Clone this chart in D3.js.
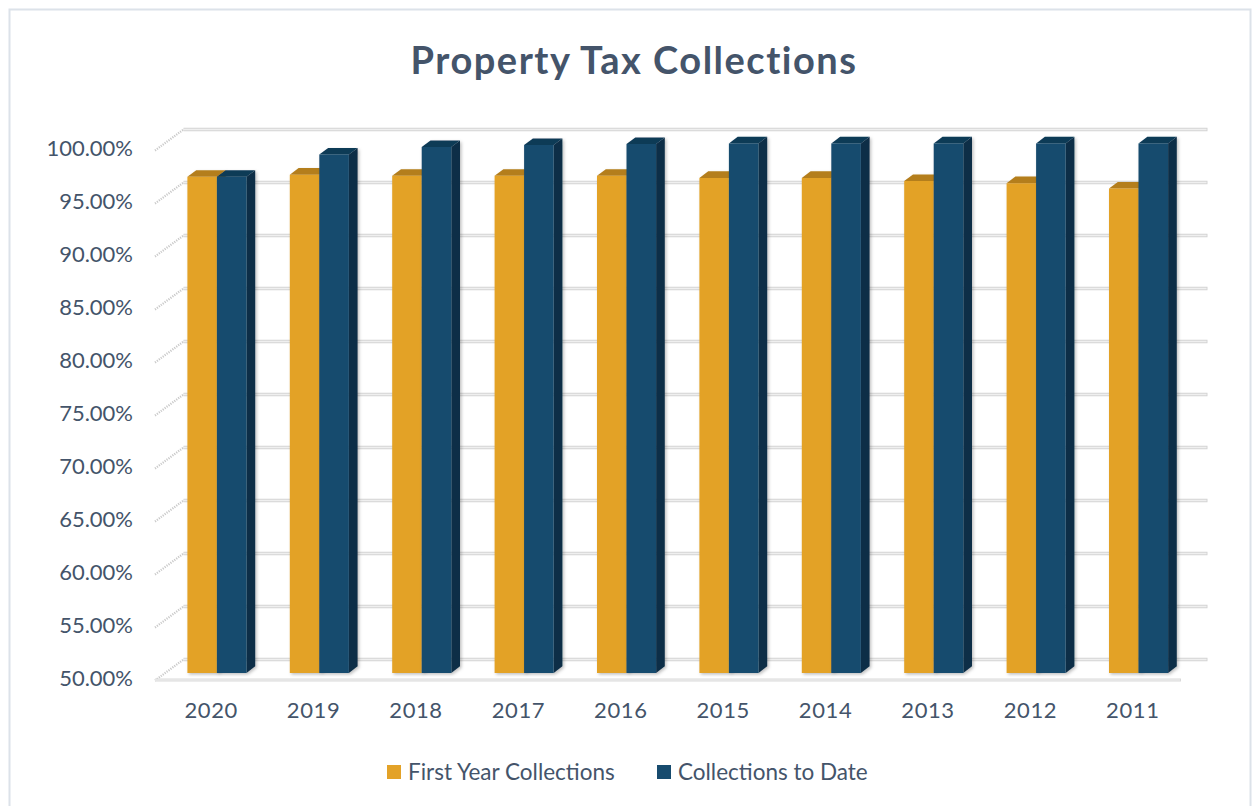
<!DOCTYPE html>
<html>
<head>
<meta charset="utf-8">
<script src="https://cdn.jsdelivr.net/npm/d3@7"></script>
<style>
  body { margin: 0; background: #fff; }
  text { font-family: Lato, "Open Sans", sans-serif; fill: #44546A; }
</style>
</head>
<body>
<div id="cont"></div>
<script>
// data
var years = ["2020", "2019", "2018", "2017", "2016", "2015", "2014", "2013", "2012", "2011"];
var firstYear = [96.8, 97.0, 96.9, 96.9, 96.9, 96.7, 96.7, 96.4, 96.2, 95.7];
var toDate = [96.8, 98.9, 99.6, 99.8, 99.9, 99.95, 99.95, 99.95, 99.95, 99.95];
var yTicks = [50, 55, 60, 65, 70, 75, 80, 85, 90, 95, 100];
var seriesNames = ["First Year Collections", "Collections to Date"];

var colors = {
  "First Year Collections": { front: "#E3A228", top: "#B47E1C", side: "#A8741A" },
  "Collections to Date": { front: "#174B6E", top: "#113A57", side: "#0F2F47" }
};

var W = 1253, H = 806;
// depth vector of the floor (front -> back wall)
var DX = 26.5, DY = -20;
var F1 = 0.33, F2 = 0.66;

var svg = d3.select("#cont").append("svg")
  .attr("width", W).attr("height", H);

svg.append("rect")
  .attr("x", 9.5).attr("y", 9.5)
  .attr("width", 1241).attr("height", 810)
  .attr("fill", "#fff")
  .attr("stroke", "#DCE2E9").attr("stroke-width", 2);

var defs = svg.append("defs");
defs.append("filter").attr("id", "shadow")
  .attr("x", "-20%").attr("y", "-20%").attr("width", "150%").attr("height", "150%")
  .append("feDropShadow")
  .attr("dx", 1.5).attr("dy", 1.5).attr("stdDeviation", 1.5)
  .attr("flood-color", "#000").attr("flood-opacity", 0.25);

var x = d3.scaleBand().domain(years).range([157, 1181]);
var inner = d3.scaleBand().domain(seriesNames).range([0, x.bandwidth()]).paddingOuter(0.735);
var y = d3.scaleLinear().domain([50, 100]).range([679.5, 149.5]);

function pt(px, v, f) {
  return [px + f * DX, y(v) + f * DY];
}
function poly(list) {
  return list.map(function(p) { return p[0].toFixed(1) + "," + p[1].toFixed(1); }).join(" ");
}

var x0 = x.range()[0], x1 = x.range()[1];

// side wall gridlines (left, dotted)
svg.selectAll("line.side")
  .data(yTicks)
  .enter().append("line")
  .attr("class", "side")
  .attr("x1", x0 - 2).attr("y1", function(d) { return y(d) + 1; })
  .attr("x2", x0 + DX).attr("y2", function(d) { return y(d) + DY; })
  .attr("stroke", "#C9C9C9").attr("stroke-width", 2.2)
  .attr("stroke-dasharray", "1.2,1.2");

// back wall gridlines
var grid = svg.selectAll("g.grid")
  .data(yTicks)
  .enter().append("g").attr("class", "grid");
grid.append("line")
  .attr("x1", x0 + DX).attr("x2", x1 + DX)
  .attr("y1", function(d) { return y(d) + DY; })
  .attr("y2", function(d) { return y(d) + DY; })
  .attr("stroke", "#D4D4D4").attr("stroke-width", 3.5);
grid.append("line")
  .attr("x1", x0 + DX).attr("x2", x1 + DX - 1)
  .attr("y1", function(d) { return y(d) + DY; })
  .attr("y2", function(d) { return y(d) + DY; })
  .attr("stroke", "#EFEFEF").attr("stroke-width", 1.3);

// floor front edge
svg.append("line")
  .attr("x1", x0 - 2).attr("x2", x1)
  .attr("y1", y(50) + 0.5).attr("y2", y(50) + 0.5)
  .attr("stroke", "#D9D9D9").attr("stroke-width", 3);
svg.append("line")
  .attr("x1", x0 - 2).attr("x2", x1 - 1)
  .attr("y1", y(50) + 0.5).attr("y2", y(50) + 0.5)
  .attr("stroke", "#F2F2F2").attr("stroke-width", 1);

// bars
var bars = [];
years.forEach(function(yr, i) {
  bars.push({ year: yr, series: seriesNames[0], value: firstYear[i] });
  bars.push({ year: yr, series: seriesNames[1], value: toDate[i] });
});

var g = svg.selectAll("g.bar")
  .data(bars)
  .enter().append("g").attr("class", "bar")
  .attr("filter", "url(#shadow)");

g.append("polygon")
  .attr("points", function(d) {
    var a = x(d.year) + inner(d.series), b = a + inner.bandwidth();
    return poly([pt(b, 50, F1), pt(b, d.value, F1), pt(b, d.value, F2), pt(b, 50, F2)]);
  })
  .attr("fill", function(d) { return colors[d.series].side; });

g.append("polygon")
  .attr("points", function(d) {
    var a = x(d.year) + inner(d.series), b = a + inner.bandwidth();
    return poly([pt(a, d.value, F1), pt(b, d.value, F1), pt(b, d.value, F2), pt(a, d.value, F2)]);
  })
  .attr("fill", function(d) { return colors[d.series].top; });

g.append("polygon")
  .attr("points", function(d) {
    var a = x(d.year) + inner(d.series), b = a + inner.bandwidth();
    return poly([pt(a, 50, F1), pt(b, 50, F1), pt(b, d.value, F1), pt(a, d.value, F1)]);
  })
  .attr("fill", function(d) { return colors[d.series].front; });

// y axis labels
svg.selectAll("text.ytick")
  .data(yTicks)
  .enter().append("text")
  .attr("class", "ytick")
  .attr("x", 133)
  .attr("y", function(d) { return y(d) - 1; })
  .attr("dy", "0.35em")
  .attr("text-anchor", "end")
  .style("font-size", "22px")
  .text(function(d) { return d.toFixed(2) + "%"; });

// x axis labels
svg.selectAll("text.xtick")
  .data(years)
  .enter().append("text")
  .attr("class", "xtick")
  .attr("x", function(d) { return x(d) + x.bandwidth() / 2 + 3; })
  .attr("y", 710)
  .attr("dy", "0.35em")
  .attr("text-anchor", "middle")
  .style("font-size", "22px")
  .style("letter-spacing", "0.6px")
  .text(function(d) { return d; });

// title
svg.append("text")
  .attr("x", 634).attr("y", 74)
  .attr("text-anchor", "middle")
  .style("font-size", "38px").style("font-weight", "bold")
  .style("letter-spacing", "1.5px")
  .text("Property Tax Collections");

// legend
var legendX = [387, 657];
var leg = svg.selectAll("g.legend")
  .data(seriesNames)
  .enter().append("g").attr("class", "legend")
  .attr("transform", function(d, i) { return "translate(" + legendX[i] + ",765)"; });
leg.append("rect")
  .attr("width", 14).attr("height", 14)
  .attr("fill", function(d) { return colors[d].front; });
leg.append("text")
  .attr("x", 21).attr("y", 7).attr("dy", "0.35em")
  .style("font-size", "22.5px")
  .text(function(d) { return d; });
</script>
</body>
</html>
